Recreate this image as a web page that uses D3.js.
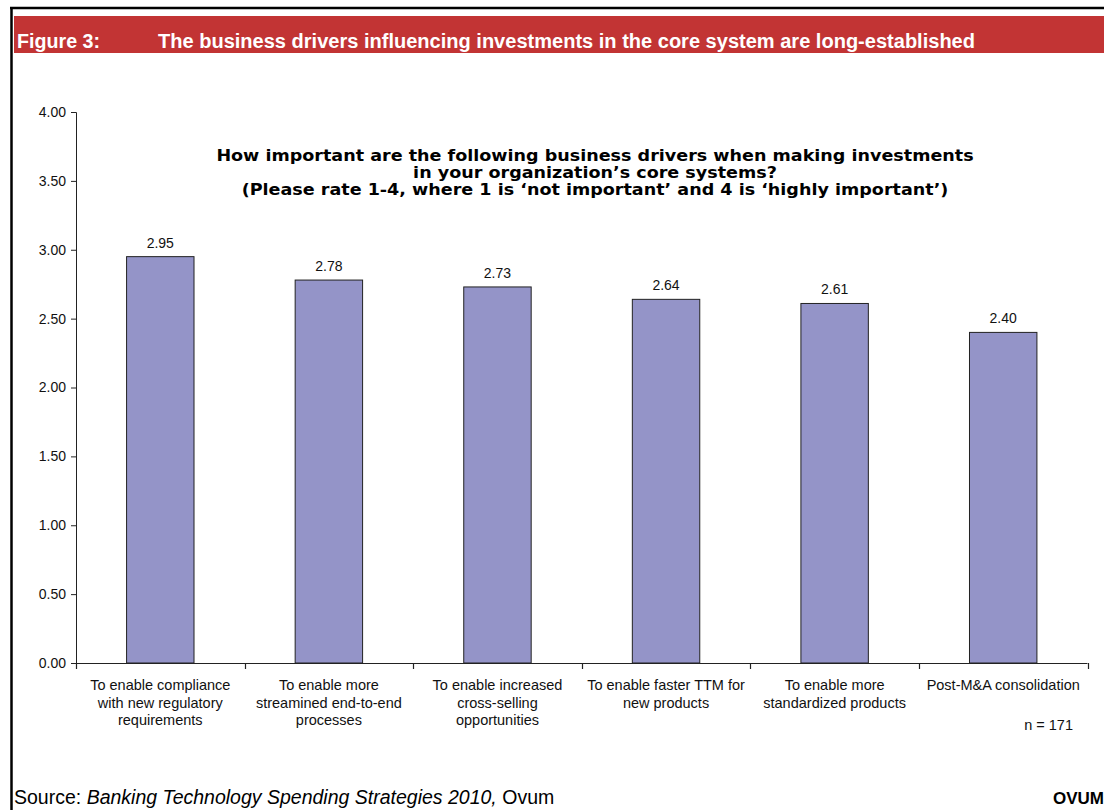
<!DOCTYPE html>
<html>
<head>
<meta charset="utf-8">
<script src="https://cdn.jsdelivr.net/npm/d3@7"></script>
<style>
  html, body { margin: 0; padding: 0; background: #fff; }
  svg { display: block; }
</style>
</head>
<body>
<svg id="chart" width="1104" height="810"></svg>
<script>
// Survey results: mean importance rating (1-4) per business driver
const categories = [
  ["To enable compliance", "with new regulatory", "requirements"],
  ["To enable more", "streamined end-to-end", "processes"],
  ["To enable increased", "cross-selling", "opportunities"],
  ["To enable faster TTM for", "new products"],
  ["To enable more", "standardized products"],
  ["Post-M&A consolidation"]
];
const values = [2.95, 2.78, 2.73, 2.64, 2.61, 2.40];
const yTicks = [0, 0.5, 1, 1.5, 2, 2.5, 3, 3.5, 4];

const figureLabel = "Figure 3:";
const headline = "The business drivers influencing investments in the core system are long-established";
const question = [
  "How important are the following business drivers when making investments",
  "in your organization\u2019s core systems?",
  "(Please rate 1-4, where 1 is \u2018not important\u2019 and 4 is \u2018highly important\u2019)"
];
const sampleNote = "n = 171";

const svg = d3.select("#chart");
const ARIAL = "Arial, 'Liberation Sans', Helvetica, sans-serif";

// Page frame
svg.append("line").attr("x1", 10).attr("x2", 1104).attr("y1", 8).attr("y2", 8)
  .attr("stroke", "#000").attr("stroke-width", 2.5);
svg.append("line").attr("x1", 11.5).attr("x2", 11.5).attr("y1", 7).attr("y2", 810)
  .attr("stroke", "#000").attr("stroke-width", 2.5);

// Figure header band
svg.append("rect").attr("x", 14).attr("y", 16).attr("width", 1090).attr("height", 37)
  .attr("fill", "#c23434");
svg.append("text").attr("x", 17).attr("y", 48)
  .attr("font-family", ARIAL).attr("font-weight", "bold").attr("font-size", 19.5)
  .attr("fill", "#fff").attr("textLength", 83).attr("lengthAdjust", "spacingAndGlyphs")
  .text(figureLabel);
svg.append("text").attr("x", 158).attr("y", 48)
  .attr("font-family", ARIAL).attr("font-weight", "bold").attr("font-size", 19.5)
  .attr("fill", "#fff").attr("textLength", 817).attr("lengthAdjust", "spacingAndGlyphs")
  .text(headline);

// Plot area
const x0 = 76, x1 = 1087.5, yTop = 112, yBase = 663;

const x = d3.scaleBand()
  .domain(d3.range(values.length))
  .range([x0, x1])
  .paddingInner(0.6)
  .paddingOuter(0.3);

const y = d3.scaleLinear().domain([0, 4]).range([yBase, yTop]);

// Bars
svg.append("g").selectAll("rect")
  .data(values)
  .join("rect")
  .attr("x", (d, i) => x(i))
  .attr("y", d => y(d))
  .attr("width", x.bandwidth())
  .attr("height", d => yBase - y(d))
  .attr("fill", "#9494c8")
  .attr("stroke", "#222")
  .attr("stroke-width", 1);

// Value labels
svg.append("g").selectAll("text")
  .data(values)
  .join("text")
  .attr("x", (d, i) => x(i) + x.bandwidth() / 2)
  .attr("y", d => y(d) - 9)
  .attr("text-anchor", "middle")
  .attr("font-family", ARIAL).attr("font-size", 14)
  .attr("fill", "#111")
  .text(d => d.toFixed(2));

// Y axis
const yAxis = svg.append("g")
  .attr("transform", `translate(${x0},0)`)
  .call(d3.axisLeft(y).tickValues(yTicks).tickFormat(d3.format(".2f")).tickSize(5).tickPadding(5));
yAxis.select(".domain").attr("stroke", "#222");
yAxis.selectAll(".tick line").attr("stroke", "#222");
yAxis.selectAll(".tick text")
  .attr("font-family", ARIAL).attr("font-size", 14).attr("fill", "#111");

// X axis: baseline and category divider ticks
const step = (x1 - x0) / values.length;
const dividers = d3.range(values.length + 1).map(i => x0 + i * step);
svg.append("line").attr("x1", x0).attr("x2", x1).attr("y1", yBase + 0.5).attr("y2", yBase + 0.5)
  .attr("stroke", "#222").attr("stroke-width", 1.2);
svg.append("g").selectAll("line")
  .data(dividers)
  .join("line")
  .attr("x1", d => Math.round(d) + 0.5).attr("x2", d => Math.round(d) + 0.5)
  .attr("y1", yBase).attr("y2", yBase + 6)
  .attr("stroke", "#222").attr("stroke-width", 1.2);

// Category labels
const catG = svg.append("g");
categories.forEach((lines, i) => {
  const t = catG.append("text")
    .attr("x", x(i) + x.bandwidth() / 2)
    .attr("y", 690)
    .attr("text-anchor", "middle")
    .attr("font-family", ARIAL).attr("font-size", 14.5)
    .attr("fill", "#111");
  lines.forEach((ln, j) => {
    t.append("tspan").attr("x", x(i) + x.bandwidth() / 2).attr("dy", j === 0 ? 0 : 17.5).text(ln);
  });
});

// Sample size
svg.append("text").attr("x", 1073).attr("y", 730).attr("text-anchor", "end")
  .attr("font-family", ARIAL).attr("font-size", 14.5).attr("fill", "#111")
  .text(sampleNote);

// Survey question: one shared horizontal squeeze keeps line proportions
const qG = svg.append("g");
const qTexts = question.map((ln, j) => qG.append("text")
  .attr("x", 0).attr("y", 161 + j * 17)
  .attr("text-anchor", "middle")
  .attr("font-family", "'DejaVu Sans', Verdana, sans-serif")
  .attr("font-weight", "bold").attr("font-size", 16)
  .attr("fill", "#000")
  .text(ln));
const w0 = qTexts[0].node().getComputedTextLength();
const sx = 758 / w0;
qG.attr("transform", `translate(595,0) scale(${sx},1)`);

// Source line
const src = svg.append("text").attr("x", 14).attr("y", 804)
  .attr("font-family", ARIAL).attr("font-size", 19.5).attr("fill", "#000");
src.append("tspan").text("Source: ");
src.append("tspan").attr("font-style", "italic").text("Banking Technology Spending Strategies 2010,");
src.append("tspan").text(" Ovum");

svg.append("text").attr("x", 1104).attr("y", 804).attr("text-anchor", "end")
  .attr("font-family", ARIAL).attr("font-weight", "bold").attr("font-size", 17).attr("fill", "#000")
  .text("OVUM");
</script>
</body>
</html>
